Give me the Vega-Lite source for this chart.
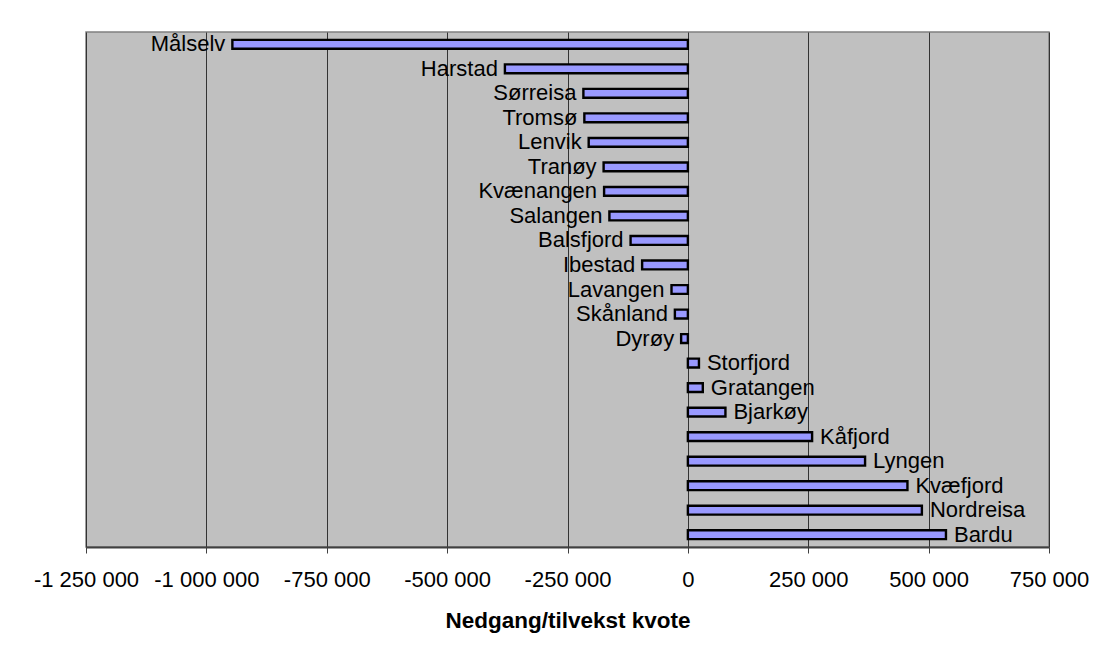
{
  "$schema": "https://vega.github.io/schema/vega-lite/v6.json",
  "width": 963,
  "height": 515,
  "autosize": {"type": "none"},
  "padding": {"left": 86, "top": 32, "right": 64, "bottom": 108},
  "background": "white",
  "config": {
    "locale": {"number": {"decimal": ",", "thousands": " ", "grouping": [3], "currency": ["", ""], "minus": "-"}},
    "view": {"fill": "#C0C0C0", "stroke": "#808080", "strokeWidth": 1.5},
    "font": "Liberation Sans"
  },
  "data": {
    "values": [
      {"kommune": "Målselv", "kvote": -946000},
      {"kommune": "Harstad", "kvote": -380000},
      {"kommune": "Sørreisa", "kvote": -217000},
      {"kommune": "Tromsø", "kvote": -215000},
      {"kommune": "Lenvik", "kvote": -206000},
      {"kommune": "Tranøy", "kvote": -175000},
      {"kommune": "Kvænangen", "kvote": -174000},
      {"kommune": "Salangen", "kvote": -163000},
      {"kommune": "Balsfjord", "kvote": -119000},
      {"kommune": "Ibestad", "kvote": -95000},
      {"kommune": "Lavangen", "kvote": -34000},
      {"kommune": "Skånland", "kvote": -27000},
      {"kommune": "Dyrøy", "kvote": -14000},
      {"kommune": "Storfjord", "kvote": 23000},
      {"kommune": "Gratangen", "kvote": 31000},
      {"kommune": "Bjarkøy", "kvote": 78000},
      {"kommune": "Kåfjord", "kvote": 258000},
      {"kommune": "Lyngen", "kvote": 368000},
      {"kommune": "Kvæfjord", "kvote": 456000},
      {"kommune": "Nordreisa", "kvote": 486000},
      {"kommune": "Bardu", "kvote": 536000}
    ]
  },
  "encoding": {
    "y": {"field": "kommune", "type": "nominal", "sort": null, "axis": null, "scale": {"paddingInner": 0.64, "paddingOuter": 0.32}},
    "x": {
      "field": "kvote",
      "type": "quantitative",
      "scale": {"domain": [-1250000, 750000], "nice": false},
      "axis": {
        "values": [-1250000, -1000000, -750000, -500000, -250000, 0, 250000, 500000, 750000],
        "format": ",.0f",
        "title": "Nedgang/tilvekst kvote",
        "titleFont": "Liberation Sans",
        "titleFontSize": 22.5,
        "titleFontWeight": "bold",
        "titleColor": "black",
        "titlePadding": 19,
        "labelFont": "Liberation Sans",
        "labelFontSize": 22,
        "labelColor": "black",
        "labelPadding": 16,
        "labelFlush": false,
        "labelOverlap": false,
        "domainColor": "#404040",
        "domainWidth": 2,
        "tickColor": "#404040",
        "tickSize": 6,
        "tickWidth": 1,
        "grid": true,
        "gridColor": "#333333",
        "gridWidth": 1
      }
    }
  },
  "layer": [
    {
      "mark": {"type": "bar", "fill": "#9999FF", "stroke": "#000000", "strokeWidth": 2.4}
    },
    {
      "transform": [{"filter": "datum.kvote < 0"}],
      "mark": {"type": "text", "align": "right", "baseline": "middle", "dx": -7, "fontSize": 22, "color": "#000000", "font": "Liberation Sans"},
      "encoding": {"text": {"field": "kommune"}}
    },
    {
      "transform": [{"filter": "datum.kvote >= 0"}],
      "mark": {"type": "text", "align": "left", "baseline": "middle", "dx": 8, "fontSize": 22, "color": "#000000", "font": "Liberation Sans"},
      "encoding": {"text": {"field": "kommune"}}
    }
  ]
}
